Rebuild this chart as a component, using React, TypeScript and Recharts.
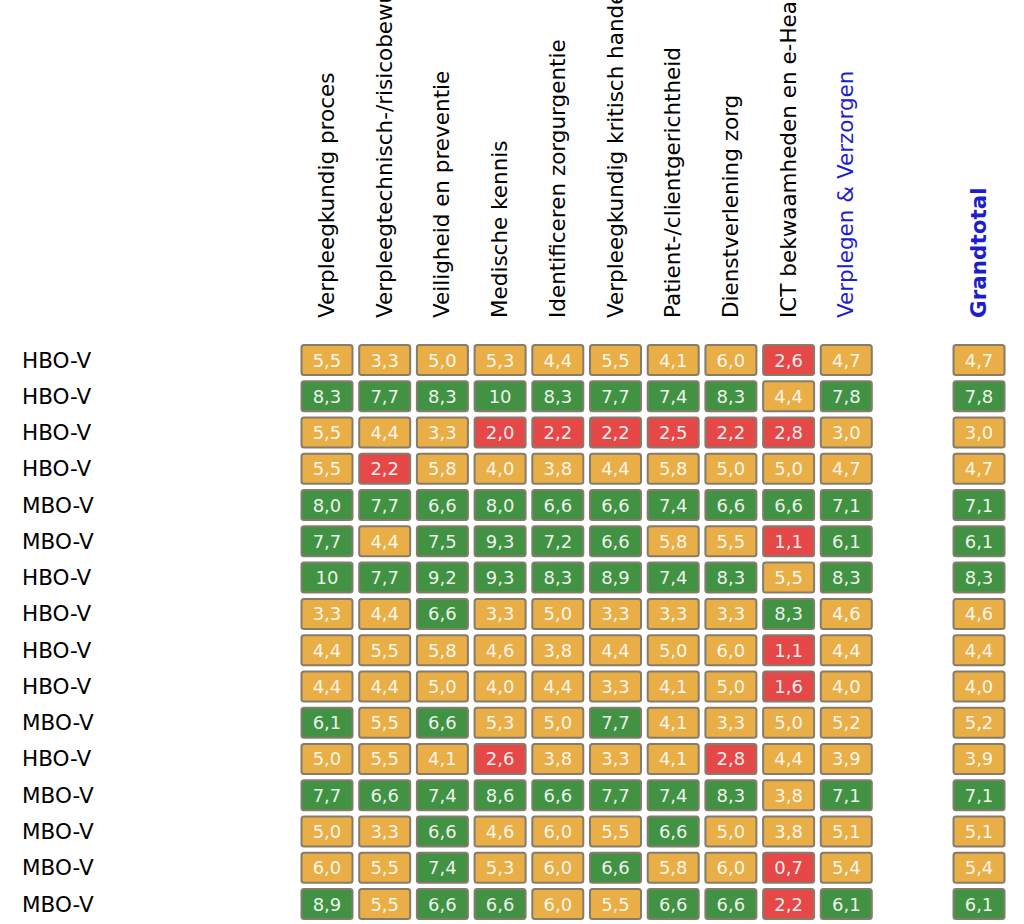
import { ScatterChart, Scatter, XAxis, YAxis } from "recharts";

const columns = [
  "Verpleegkundig proces",
  "Verpleegtechnisch-/risicobewustzijn",
  "Veiligheid en preventie",
  "Medische kennis",
  "Identificeren zorgurgentie",
  "Verpleegkundig kritisch handelen",
  "Patient-/clientgerichtheid",
  "Dienstverlening zorg",
  "ICT bekwaamheden en e-Health",
  "Verplegen & Verzorgen",
];
const totalLabel = "Grandtotal";

const rows = [
  "HBO-V", "HBO-V", "HBO-V", "HBO-V", "MBO-V", "MBO-V", "HBO-V", "HBO-V",
  "HBO-V", "HBO-V", "MBO-V", "HBO-V", "MBO-V", "MBO-V", "MBO-V", "MBO-V",
];

const scores = [
  [5.5, 3.3, 5.0, 5.3, 4.4, 5.5, 4.1, 6.0, 2.6, 4.7],
  [8.3, 7.7, 8.3, 10, 8.3, 7.7, 7.4, 8.3, 4.4, 7.8],
  [5.5, 4.4, 3.3, 2.0, 2.2, 2.2, 2.5, 2.2, 2.8, 3.0],
  [5.5, 2.2, 5.8, 4.0, 3.8, 4.4, 5.8, 5.0, 5.0, 4.7],
  [8.0, 7.7, 6.6, 8.0, 6.6, 6.6, 7.4, 6.6, 6.6, 7.1],
  [7.7, 4.4, 7.5, 9.3, 7.2, 6.6, 5.8, 5.5, 1.1, 6.1],
  [10, 7.7, 9.2, 9.3, 8.3, 8.9, 7.4, 8.3, 5.5, 8.3],
  [3.3, 4.4, 6.6, 3.3, 5.0, 3.3, 3.3, 3.3, 8.3, 4.6],
  [4.4, 5.5, 5.8, 4.6, 3.8, 4.4, 5.0, 6.0, 1.1, 4.4],
  [4.4, 4.4, 5.0, 4.0, 4.4, 3.3, 4.1, 5.0, 1.6, 4.0],
  [6.1, 5.5, 6.6, 5.3, 5.0, 7.7, 4.1, 3.3, 5.0, 5.2],
  [5.0, 5.5, 4.1, 2.6, 3.8, 3.3, 4.1, 2.8, 4.4, 3.9],
  [7.7, 6.6, 7.4, 8.6, 6.6, 7.7, 7.4, 8.3, 3.8, 7.1],
  [5.0, 3.3, 6.6, 4.6, 6.0, 5.5, 6.6, 5.0, 3.8, 5.1],
  [6.0, 5.5, 7.4, 5.3, 6.0, 6.6, 5.8, 6.0, 0.7, 5.4],
  [8.9, 5.5, 6.6, 6.6, 6.0, 5.5, 6.6, 6.6, 2.2, 6.1],
];

const grandTotals = [4.7, 7.8, 3.0, 4.7, 7.1, 6.1, 8.3, 4.6, 4.4, 4.0, 5.2, 3.9, 7.1, 5.1, 5.4, 6.1];

// grand total column sits a bit further right than the others
const TOTAL_X = columns.length + 1.3;
const FONT = "'DejaVu Sans', Verdana, sans-serif";
const HEADER_BASE = 318;
const ROW_LABEL_X = 22;

const cellColor = (v: number) => (v < 3 ? "#e64848" : v <= 6 ? "#e9ae45" : "#419242");
const fmt = (v: number) => (v === 10 ? "10" : v.toFixed(1).replace(".", ","));

const cells = [
  ...scores.flatMap((r, ri) => r.map((v, ci) => ({ x: ci, y: ri, v }))),
  ...grandTotals.map((v, ri) => ({ x: TOTAL_X, y: ri, v })),
];
const headers = [
  ...columns.map((label, i) => ({ x: i, y: 0, label, sum: label === "Verplegen & Verzorgen", bold: false })),
  { x: TOTAL_X, y: 0, label: totalLabel, sum: true, bold: true },
];
const rowLabels = rows.map((label, i) => ({ x: 0, y: i, label }));

const Cell = (props: any) => {
  const { cx, cy, payload } = props;
  const w = 51;
  const h = 30;
  return (
    <g>
      <rect x={cx - w / 2} y={cy - h / 2} width={w} height={h} rx={2.5} fill={cellColor(payload.v)} stroke="#857c6e" strokeWidth={2} />
      <text x={cx} y={cy + 6.5} textAnchor="middle" fontFamily={FONT} fontSize={18} fill="#fff" fillOpacity={0.92}>
        {fmt(payload.v)}
      </text>
    </g>
  );
};

const Header = (props: any) => {
  const { cx, payload } = props;
  const bx = cx + 7;
  return (
    <text
      x={bx}
      y={HEADER_BASE}
      transform={`rotate(-90 ${bx} ${HEADER_BASE})`}
      textAnchor="start"
      fontFamily={FONT}
      fontSize={21.5}
      fontWeight={payload.bold ? "bold" : "normal"}
      fill={payload.sum ? "#1c1cd0" : "#000"}
    >
      {payload.label}
    </text>
  );
};

const RowLabel = (props: any) => {
  const { cy, payload } = props;
  return (
    <text x={ROW_LABEL_X} y={cy + 7.5} textAnchor="start" fontFamily={FONT} fontSize={21.5} fill="#000">
      {payload.label}
    </text>
  );
};

const STEP_X = 57.7;
const X0 = 327;
const STEP_Y = 36.27;
const Y0 = 360;

export default function App() {
  return (
    <div style={{ position: "absolute", left: 0, top: 0, width: 1024, height: 924, background: "#fff" }}>
      <ScatterChart width={1024} height={924} margin={{ top: 0, right: 0, bottom: 0, left: 0 }}>
        <XAxis
          type="number"
          dataKey="x"
          domain={[-X0 / STEP_X, (1024 - X0) / STEP_X]}
          hide
          allowDataOverflow
        />
        <YAxis
          type="number"
          dataKey="y"
          reversed
          domain={[-Y0 / STEP_Y, (924 - Y0) / STEP_Y]}
          hide
          allowDataOverflow
        />
        <Scatter data={cells} shape={<Cell />} isAnimationActive={false} />
        <Scatter data={headers} shape={<Header />} isAnimationActive={false} />
        <Scatter data={rowLabels} shape={<RowLabel />} isAnimationActive={false} />
      </ScatterChart>
    </div>
  );
}
